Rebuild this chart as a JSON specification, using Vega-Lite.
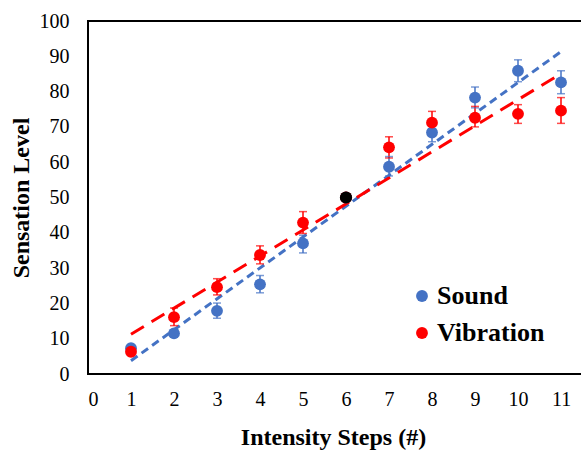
{
  "$schema": "https://vega.github.io/schema/vega-lite/v6.json",
  "width": 516,
  "height": 353,
  "autosize": "none",
  "padding": {"left": 88, "top": 21, "right": 0, "bottom": 77},
  "background": "white",
  "datasets": {
    "points": [
      {"series": "Sound", "step": 1, "level": 7.3, "lo": 6.3, "hi": 8.3},
      {"series": "Sound", "step": 2, "level": 11.5, "lo": 10.5, "hi": 12.5},
      {"series": "Sound", "step": 3, "level": 17.9, "lo": 15.8, "hi": 20.1},
      {"series": "Sound", "step": 4, "level": 25.4, "lo": 23.0, "hi": 27.9},
      {"series": "Sound", "step": 5, "level": 37.0, "lo": 34.3, "hi": 39.3},
      {"series": "Sound", "step": 6, "level": 50.0, "lo": 50.0, "hi": 50.0},
      {"series": "Sound", "step": 7, "level": 58.7, "lo": 56.1, "hi": 61.6},
      {"series": "Sound", "step": 8, "level": 68.4, "lo": 65.8, "hi": 71.3},
      {"series": "Sound", "step": 9, "level": 78.3, "lo": 75.4, "hi": 81.3},
      {"series": "Sound", "step": 10, "level": 85.9, "lo": 82.8, "hi": 89.0},
      {"series": "Sound", "step": 11, "level": 82.6, "lo": 79.4, "hi": 85.9},
      {"series": "Vibration", "step": 1, "level": 6.3, "lo": 5.3, "hi": 7.3},
      {"series": "Vibration", "step": 2, "level": 16.1, "lo": 13.7, "hi": 18.7},
      {"series": "Vibration", "step": 3, "level": 24.6, "lo": 22.4, "hi": 27.0},
      {"series": "Vibration", "step": 4, "level": 33.7, "lo": 31.2, "hi": 36.3},
      {"series": "Vibration", "step": 5, "level": 42.9, "lo": 39.8, "hi": 46.0},
      {"series": "Vibration", "step": 6, "level": 50.0, "lo": 50.0, "hi": 50.0},
      {"series": "Vibration", "step": 7, "level": 64.2, "lo": 61.2, "hi": 67.2},
      {"series": "Vibration", "step": 8, "level": 71.2, "lo": 68.0, "hi": 74.4},
      {"series": "Vibration", "step": 9, "level": 72.6, "lo": 70.0, "hi": 75.8},
      {"series": "Vibration", "step": 10, "level": 73.7, "lo": 71.0, "hi": 76.3},
      {"series": "Vibration", "step": 11, "level": 74.6, "lo": 71.0, "hi": 78.3}
    ]
  },
  "data": {"name": "points"},
  "encoding": {
    "x": {
      "field": "step",
      "type": "quantitative",
      "scale": {"domain": [0, 12], "nice": false},
      "axis": {
        "values": [0, 1, 2, 3, 4, 5, 6, 7, 8, 9, 10, 11, 12],
        "title": "Intensity Steps (#)",
        "titlePadding": 16,
        "titleX": 245
      }
    },
    "y": {
      "field": "level",
      "type": "quantitative",
      "scale": {"domain": [0, 100], "nice": false},
      "axis": {
        "values": [0, 10, 20, 30, 40, 50, 60, 70, 80, 90, 100],
        "title": "Sensation Level",
        "titlePadding": 6
      }
    }
  },
  "layer": [
    {
      "transform": [
        {"regression": "level", "on": "step", "groupby": ["series"]}
      ],
      "mark": {"type": "line", "strokeWidth": 3},
      "encoding": {
        "stroke": {
          "field": "series",
          "type": "nominal",
          "scale": {"range": ["#4472C4", "#FF0000"]},
          "legend": null
        },
        "strokeDash": {
          "field": "series",
          "type": "nominal",
          "scale": {"range": [[8, 5], [15, 9]]},
          "legend": null
        }
      }
    },
    {
      "mark": {"type": "rule", "strokeWidth": 1.5},
      "encoding": {
        "y": {"field": "lo", "type": "quantitative"},
        "y2": {"field": "hi"},
        "stroke": {"field": "series", "type": "nominal", "legend": null}
      }
    },
    {
      "mark": {"type": "tick", "orient": "horizontal", "size": 8, "thickness": 1.5},
      "encoding": {
        "y": {"field": "lo", "type": "quantitative"},
        "fill": {
          "field": "series",
          "type": "nominal",
          "scale": {"range": ["#4472C4", "#FF0000"]},
          "legend": null
        }
      }
    },
    {
      "mark": {"type": "tick", "orient": "horizontal", "size": 8, "thickness": 1.5},
      "encoding": {
        "y": {"field": "hi", "type": "quantitative"},
        "fill": {"field": "series", "type": "nominal", "legend": null}
      }
    },
    {
      "mark": {"type": "circle", "size": 140, "opacity": 1},
      "encoding": {
        "color": {
          "field": "series",
          "type": "nominal",
          "scale": {"domain": ["Sound", "Vibration"], "range": ["#4472C4", "#FF0000"]},
          "legend": {
            "title": null,
            "orient": "none",
            "legendX": 321,
            "legendY": 262,
            "labelFont": "Liberation Serif",
            "labelFontWeight": "bold",
            "labelFontSize": 26,
            "labelColor": "black",
            "labelOffset": 2,
            "symbolType": "circle",
            "symbolSize": 140,
            "symbolOpacity": 1,
            "symbolStrokeWidth": 0,
            "rowPadding": 11,
            "padding": 0
          }
        }
      }
    },
    {
      "transform": [{"filter": "datum.step == 6 && datum.series == 'Sound'"}],
      "mark": {"type": "circle", "size": 150, "opacity": 1, "color": "black"}
    }
  ],
  "config": {
    "font": "Liberation Serif",
    "view": {"stroke": "black", "strokeWidth": 2},
    "axis": {
      "grid": false,
      "domain": false,
      "ticks": false,
      "labelFont": "Liberation Serif",
      "labelFontSize": 20,
      "labelColor": "black",
      "titleFont": "Liberation Serif",
      "titleFontSize": 24,
      "titleFontWeight": "bold",
      "titleColor": "black"
    },
    "axisX": {"labelPadding": 15},
    "axisY": {"labelPadding": 19}
  }
}
